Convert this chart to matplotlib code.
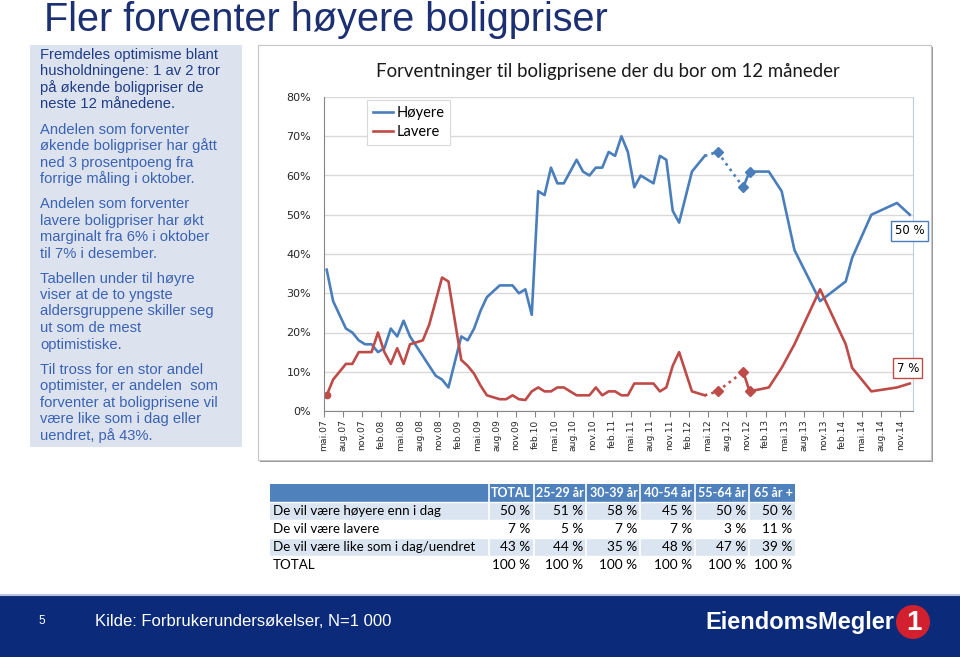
import matplotlib
matplotlib.use('Agg')
import matplotlib.pyplot as plt
from matplotlib.patches import Rectangle, Circle
from matplotlib import font_manager

# ---------------- data ----------------
x_labels = ['mai.07', 'aug.07', 'nov.07', 'feb.08', 'mai.08', 'aug.08', 'nov.08',
            'feb.09', 'mai.09', 'aug.09', 'nov.09', 'feb.10', 'mai.10', 'aug.10',
            'nov.10', 'feb.11', 'mai.11', 'aug.11', 'nov.11', 'feb.12', 'mai.12',
            'aug.12', 'nov.12', 'feb.13', 'mai.13', 'aug.13', 'nov.13', 'feb.14',
            'mai.14', 'aug.14', 'nov.14']
n_months = 92  # mai.07 .. des.14, month index 0..91

# month index (0 = mai.07) of each survey
mnd_a = [0, 1, 2, 3, 4, 5, 6, 7, 8, 9, 10, 11, 12, 13, 14, 15, 16, 17, 18, 19,
         21, 22, 23, 24, 25, 26, 27, 28, 29, 30, 31, 32, 33, 34, 35, 36, 37, 38,
         39, 40, 41, 42, 43, 44, 45, 46, 47, 48, 49, 50, 51, 52, 53, 54, 55, 57, 59]
mnd_bridge = [59, 61, 65]
mnd_b = [65, 66, 69, 71, 73, 77, 81, 82, 85, 89, 91]
mnd_marker = [61, 65, 66]

hoyere_a = [36, 28, 24.5, 21, 20, 18, 17, 17, 15, 16, 21, 19, 23, 19, 16.5, 14, 11.5, 9, 8, 6,
            19, 18, 21, 25.5, 29, 30.5, 32, 32, 32, 30, 31, 24.5, 56, 55, 62, 58, 58, 61,
            64, 61, 60, 62, 62, 66, 65, 70, 66, 57, 60, 59, 58, 65, 64, 51, 48, 61, 65]
hoyere_bridge = [65, 66, 57]
hoyere_b = [57, 61, 61, 56, 41, 28, 33, 39, 50, 53, 50]
hoyere_marker = [66, 57, 61]

lavere_a = [4, 8, 10, 12, 12, 15, 15, 15, 20, 15, 12, 16, 12, 17, 17.5, 18, 22, 28, 34, 33,
            13, 11.5, 9.5, 6.5, 4, 3.5, 3, 3, 4, 3, 2.8, 5, 6, 5, 5, 6, 6, 5,
            4, 4, 4, 6, 4, 5, 5, 4, 4, 7, 7, 7, 7, 5, 6, 11.5, 15, 5, 4]
lavere_bridge = [4, 5, 10]
lavere_b = [10, 5, 6, 11, 17, 31, 17, 11, 5, 6, 7]
lavere_marker = [5, 10, 5]

y_ticks = [0, 10, 20, 30, 40, 50, 60, 70, 80]

tab_cols = ['TOTAL', '25-29 år', '30-39 år', '40-54 år', '55-64 år', '65 år +']
tab_rows = ['De vil være høyere enn i dag', 'De vil være lavere',
            'De vil være like som i dag/uendret', 'TOTAL']
tab_vals = [[50, 51, 58, 45, 50, 50],
            [7, 5, 7, 7, 3, 11],
            [43, 44, 35, 48, 47, 39],
            [100, 100, 100, 100, 100, 100]]

title = 'Fler forventer høyere boligpriser'
chart_title = 'Forventninger til boligprisene der du bor om 12 måneder'
paragraphs = [
    ['Fremdeles optimisme blant', 'husholdningene: 1 av 2 tror',
     'på økende boligpriser de', 'neste 12 månedene.'],
    ['Andelen som forventer', 'økende boligpriser har gått',
     'ned 3 prosentpoeng fra', 'forrige måling i oktober.'],
    ['Andelen som forventer', 'lavere boligpriser har økt',
     'marginalt fra 6% i oktober', 'til 7% i desember.'],
    ['Tabellen under til høyre', 'viser at de to yngste',
     'aldersgruppene skiller seg', 'ut som de mest', 'optimistiske.'],
    ['Til tross for en stor andel', 'optimister, er andelen  som',
     'forventer at boligprisene vil', 'være like som i dag eller',
     'uendret, på 43%.'],
]
source = 'Kilde: Forbrukerundersøkelser, N=1 000'
page_no = '5'
logo_text = 'EiendomsMegler'

# ---------------- styles ----------------
BLUE = '#4a7ebb'
RED = '#be4b48'
NAVY = '#1b2f72'
TXT_DARK = '#1f3c88'
TXT_BLUE = '#3a63b5'

avail = {f.name for f in font_manager.fontManager.ttflist}
narrow = 'Liberation Sans Narrow' in avail

W, H = 960, 657
fig = plt.figure(figsize=(9.6, 6.57), dpi=100)
fig.patch.set_facecolor('white')

ov = fig.add_axes([0, 0, 1, 1], zorder=0)
ov.set_xlim(0, W)
ov.set_ylim(H, 0)
ov.axis('off')

# slide title
ov.text(44, 20, title, fontsize=28.5, color=NAVY, family='Liberation Sans',
        va='center', ha='left')

# left text box
ov.add_patch(Rectangle((30, 45), 212, 402, facecolor='#dde3ee', edgecolor='none'))
y = 55
for pi, para in enumerate(paragraphs):
    col = TXT_DARK if pi == 0 else TXT_BLUE
    for line in para:
        ov.text(40, y, line, fontsize=10.6, color=col, family='Liberation Sans',
                va='center', ha='left')
        y += 16.5
    y += 8.5

# chart frame with shadow
ov.add_patch(Rectangle((260, 47), 673, 415, facecolor='#9a9a9a', edgecolor='none'))
ov.add_patch(Rectangle((258, 45), 673, 415, facecolor='white', edgecolor='#c4c4c4', lw=0.8))
ov.text(608, 72, chart_title, fontsize=13.4, color='#1a1a1a', family='Lato',
        va='center', ha='center')

# table
col_edges = [270, 488.5, 533.5, 586, 640, 695, 749, 795]
row_edges = [484, 502, 520, 538, 556, 574]
ov.add_patch(Rectangle((col_edges[0], row_edges[0]), col_edges[-1] - col_edges[0],
                       row_edges[1] - row_edges[0], facecolor='#4f81bd', edgecolor='none'))
for j, c in enumerate(tab_cols):
    ov.text(col_edges[j + 2] - 2.5, (row_edges[0] + row_edges[1]) / 2, c, fontsize=9,
            color='white', fontweight='bold', family='Lato', ha='right', va='center')
for i, r in enumerate(tab_rows):
    y0, y1 = row_edges[i + 1], row_edges[i + 2]
    if i % 2 == 0:
        ov.add_patch(Rectangle((col_edges[0], y0), col_edges[-1] - col_edges[0], y1 - y0,
                               facecolor='#dbe5f1', edgecolor='none'))
    ov.text(col_edges[0] + 3, (y0 + y1) / 2, r, fontsize=9.6, color='black',
            family='Lato', ha='left', va='center')
    for j, v in enumerate(tab_vals[i]):
        ov.text(col_edges[j + 2] - 3, (y0 + y1) / 2, f'{v} %', fontsize=9.8,
                color='black', family='Lato', ha='right', va='center')
for xe in col_edges[1:-1]:
    ov.plot([xe, xe], [row_edges[0], row_edges[-1]], color='white', lw=1.2)
for ye in row_edges[1:-1]:
    ov.plot([col_edges[0], col_edges[-1]], [ye, ye], color='white', lw=1)

# footer
ov.add_patch(Rectangle((0, 595), W, H - 595, facecolor='#0b2b7a', edgecolor='none'))
ov.plot([0, W], [594.5, 594.5], color='#b8c4dc', lw=1.5)
ov.text(42, 621, page_no, fontsize=8.5, color='white', family='Liberation Sans',
        ha='center', va='center')
ov.text(95, 622, source, fontsize=12, color='white', family='Liberation Sans',
        ha='left', va='center')
if narrow:
    ov.text(705, 623, logo_text, fontsize=20.5, color='white',
            family='Liberation Sans Narrow', fontweight='bold', ha='left', va='center')
else:
    ov.text(705, 623, logo_text, fontsize=17, color='white',
            family='Liberation Sans', fontweight='bold', ha='left', va='center')
ov.add_patch(Circle((913, 622), 17, facecolor='#d3202f', edgecolor='none'))
ov.text(914, 623, '1', fontsize=20, color='white', family='Liberation Sans',
        fontweight='bold', ha='center', va='center')

# ---------------- chart ----------------
ax = fig.add_axes([323.5 / W, (H - 411) / H, 589.5 / W, 314 / H], zorder=2)
ax.set_facecolor('none')
ax.set_xlim(-0.5, n_months - 0.5)
ax.set_ylim(0, 80)
ax.set_yticks(y_ticks)
ax.set_yticklabels([f'{t}%' for t in y_ticks], fontsize=8, color='#262626')
ax.yaxis.grid(True, color='#d9d9d9', lw=1)
ax.set_axisbelow(True)
tick_pos = [3 * k - 0.5 for k in range(len(x_labels))]
ax.set_xticks(tick_pos)
ax.set_xticklabels(x_labels, rotation=90, fontsize=6.6, color='#262626')
ax.tick_params(axis='x', direction='out', length=4, color='#868686', pad=2)
ax.tick_params(axis='y', direction='out', length=0, pad=9)
ax.spines['top'].set_visible(False)
ax.spines['left'].set_color('#868686')
ax.spines['bottom'].set_color('#868686')
ax.spines['right'].set_color('#b9cde5')

lw = 1.9
ax.plot(mnd_a, hoyere_a, color=BLUE, lw=lw, solid_joinstyle='round', label='Høyere')
ax.plot(mnd_a, lavere_a, color=RED, lw=lw, solid_joinstyle='round', label='Lavere')
ax.plot(mnd_bridge, hoyere_bridge, color=BLUE, lw=lw, ls=(0, (1, 1.6)))
ax.plot(mnd_bridge, lavere_bridge, color=RED, lw=lw, ls=(0, (1, 1.6)))
ax.plot(mnd_b, hoyere_b, color=BLUE, lw=lw, solid_joinstyle='round')
ax.plot(mnd_b, lavere_b, color=RED, lw=lw, solid_joinstyle='round')
ax.plot(mnd_marker, hoyere_marker, ls='none', marker='D', ms=5.5, color=BLUE)
ax.plot(mnd_marker, lavere_marker, ls='none', marker='D', ms=5.5, color=RED)
ax.plot(mnd_a[0], lavere_a[0], ls='none', marker='o', ms=4.5, color=RED)

ax.annotate(f'{hoyere_b[-1]} %', (mnd_b[-1], hoyere_b[-1]), xytext=(0, -11.5),
            textcoords='offset points', ha='center', va='center', fontsize=8.5,
            color='black', annotation_clip=False,
            bbox=dict(boxstyle='square,pad=0.3', fc='white', ec=BLUE, lw=1))
ax.annotate(f'{lavere_b[-1]} %', (mnd_b[-1], lavere_b[-1]), xytext=(-1.5, 11),
            textcoords='offset points', ha='center', va='center', fontsize=8.5,
            color='black', annotation_clip=False,
            bbox=dict(boxstyle='square,pad=0.3', fc='white', ec=RED, lw=1))

leg = ax.legend(loc='upper left', bbox_to_anchor=(0.074, 0.99), frameon=True,
                fancybox=False, edgecolor='#d9d9d9', framealpha=1,
                prop={'family': 'Lato', 'size': 10.5}, handlelength=1.4,
                handletextpad=0.2, borderpad=0.4, labelspacing=0.35,
                borderaxespad=0)
leg.get_frame().set_linewidth(0.8)

fig.savefig('out.png', dpi=100)
